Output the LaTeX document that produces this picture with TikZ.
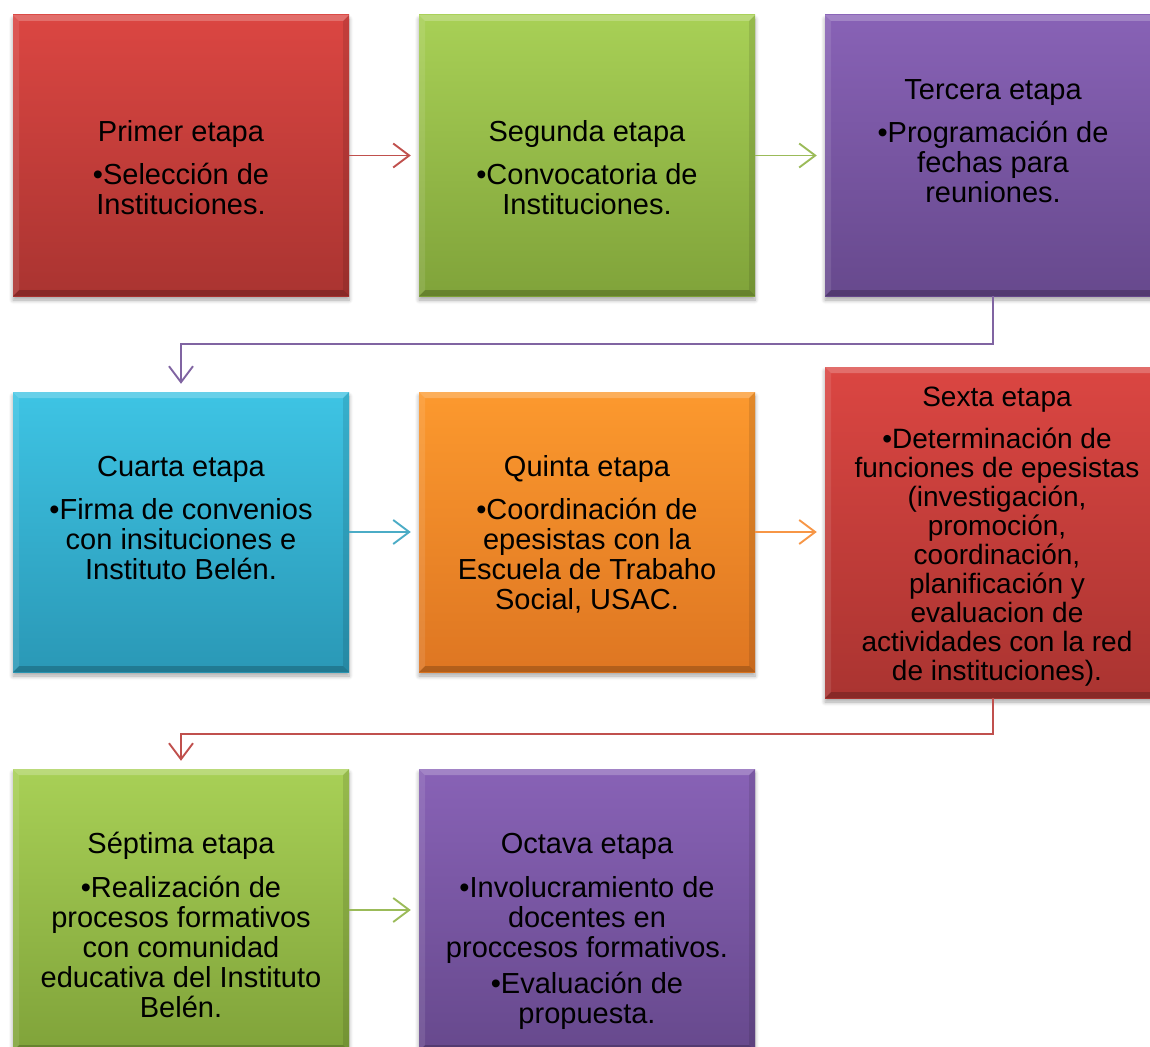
\documentclass[tikz,border=0pt]{standalone}
\usepackage{fontspec}
\setmainfont{Liberation Sans}
\usetikzlibrary{arrows.meta,shadows.blur}
\definecolor{rTop}{RGB}{219,70,66}
\definecolor{rBot}{RGB}{170,52,49}
\definecolor{gTop}{RGB}{168,208,86}
\definecolor{gBot}{RGB}{128,163,58}
\definecolor{pTop}{RGB}{136,98,182}
\definecolor{pBot}{RGB}{103,73,141}
\definecolor{cTop}{RGB}{62,196,228}
\definecolor{cBot}{RGB}{42,152,182}
\definecolor{oTop}{RGB}{252,153,46}
\definecolor{oBot}{RGB}{222,118,34}
\definecolor{rLine}{RGB}{192,80,77}
\definecolor{gLine}{RGB}{155,187,89}
\definecolor{pLine}{RGB}{128,100,162}
\definecolor{cLine}{RGB}{75,172,198}
\definecolor{oLine}{RGB}{247,150,70}
\tikzset{
  stagebox/.style={rectangle, inner sep=0pt, minimum width=336pt,
    blur shadow={shadow xshift=0pt, shadow yshift=-4pt, shadow blur radius=4pt, shadow blur steps=6, shadow opacity=35},
    path picture={
      \fill[white,opacity=.22] (path picture bounding box.north west) -- (path picture bounding box.north east)
        -- ([xshift=-6pt,yshift=-6pt]path picture bounding box.north east) -- ([xshift=6pt,yshift=-6pt]path picture bounding box.north west) -- cycle;
      \fill[black,opacity=.2] (path picture bounding box.south west) -- (path picture bounding box.south east)
        -- ([xshift=-6pt,yshift=6pt]path picture bounding box.south east) -- ([xshift=6pt,yshift=6pt]path picture bounding box.south west) -- cycle;
      \fill[white,opacity=.1] (path picture bounding box.north west) -- ([xshift=6pt,yshift=-6pt]path picture bounding box.north west)
        -- ([xshift=6pt,yshift=6pt]path picture bounding box.south west) -- (path picture bounding box.south west) -- cycle;
      \fill[black,opacity=.1] (path picture bounding box.north east) -- ([xshift=-6pt,yshift=-6pt]path picture bounding box.north east)
        -- ([xshift=-6pt,yshift=6pt]path picture bounding box.south east) -- (path picture bounding box.south east) -- cycle;
    }},
  stagetext/.style={anchor=north, inner sep=0pt, align=center, text=black,
    font=\fontsize{29}{30}\selectfont},
  smalltext/.style={stagetext, font=\fontsize{28}{29}\selectfont},
  conn/.style={line width=1.9pt, -{Straight Barb[length=16pt,width=24pt,line width=1.9pt]}, shorten >=8pt}
}
\begin{document}
\begin{tikzpicture}[x=1pt,y=-1pt]
\useasboundingbox (0,0) rectangle (1150,1046);
\clip (0,0) rectangle (1150,1046);
% boxes
\node[stagebox, minimum height=281pt, top color=rTop, bottom color=rBot] (b1) at (181,155.5) {};
\node[stagebox, minimum height=281pt, top color=gTop, bottom color=gBot] (b2) at (587,155.5) {};
\node[stagebox, minimum height=281pt, top color=pTop, bottom color=pBot] (b3) at (993,155.5) {};
\node[stagebox, minimum height=280pt, top color=cTop, bottom color=cBot] (b4) at (181,532) {};
\node[stagebox, minimum height=280pt, top color=oTop, bottom color=oBot] (b5) at (587,532) {};
\node[stagebox, minimum height=331pt, top color=rTop, bottom color=rBot] (b6) at (993,532.5) {};
\node[stagebox, minimum height=282pt, top color=gTop, bottom color=gBot] (b7) at (181,910) {};
\node[stagebox, minimum height=282pt, top color=pTop, bottom color=pBot] (b8) at (587,910) {};
% texts
\node[stagetext] (t1) at (181,120) {\strut Primer etapa\\[12pt]•Selección de\\Instituciones.};
\node[stagetext] (t2) at (587,120) {\strut Segunda etapa\\[12pt]•Convocatoria de\\Instituciones.};
\node[stagetext] (t3) at (993,78) {\strut Tercera etapa\\[12pt]•Programación de\\fechas para\\reuniones.};
\node[stagetext] (t4) at (181,455) {\strut Cuarta etapa\\[12pt]•Firma de convenios\\con insituciones e\\Instituto Belén.};
\node[stagetext] (t5) at (587,455) {\strut Quinta etapa\\[12pt]•Coordinación de\\epesistas con la\\Escuela de Trabaho\\Social, USAC.};
\node[smalltext] (t6) at (997,386) {\strut Sexta etapa\\[12pt]•Determinación de\\funciones de epesistas\\(investigación,\\promoción,\\coordinación,\\planificación y\\evaluacion de\\actividades con la red\\de instituciones).};
\node[stagetext] (t7) at (181,832) {\strut Séptima etapa\\[13pt]•Realización de\\procesos formativos\\con comunidad\\educativa del Instituto\\Belén.};
\node[stagetext] (t8) at (587,832) {\strut Octava etapa\\[13pt]•Involucramiento de\\docentes en\\proccesos formativos.\\[6pt]•Evaluación de\\propuesta.};
% connectors
\draw[conn, rLine] (b1.east) -- (b2.west);
\draw[conn, gLine] (b2.east) -- (b3.west);
\draw[conn, pLine] (b3.south) -- ++(0,48) -| (b4.north);
\draw[conn, cLine] (b4.east) -- (b5.west);
\draw[conn, oLine] (b5.east) -- (b6.west |- b5.east);
\draw[conn, rLine] (b6.south) -- ++(0,36) -| (b7.north);
\draw[conn, gLine] (b7.east) -- (b8.west);
\end{tikzpicture}
\end{document}
